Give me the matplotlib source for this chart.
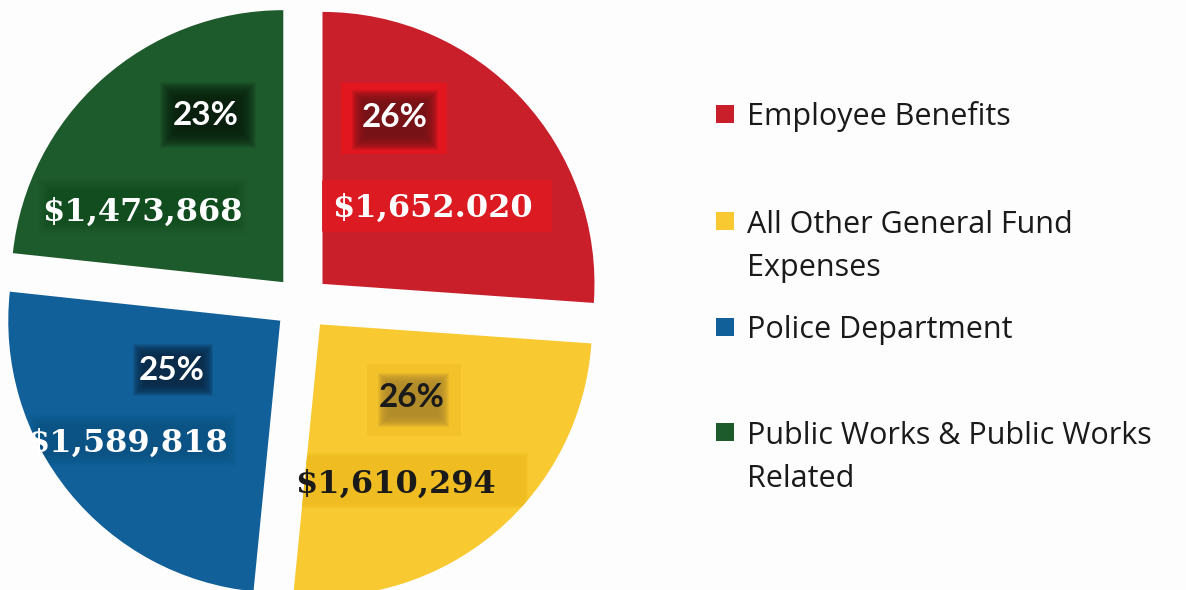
import matplotlib
matplotlib.use('Agg')
import matplotlib.pyplot as plt
from matplotlib.patches import Rectangle

categories = ['Employee Benefits', 'All Other General Fund\nExpenses',
              'Police Department', 'Public Works & Public Works\nRelated']
amounts = [1652020, 1610294, 1589818, 1473868]
amount_labels = ['$1,652.020', '$1,610,294', '$1,589,818', '$1,473,868']
pct_labels = ['26%', '26%', '25%', '23%']
colors = ['#C81F2A', '#F8C930', '#11609A', '#1E5B2C']
text_colors = ['white', '#1a1a1a', 'white', 'white']

# label anchor points (x, baseline y) in figure pixels, y measured from bottom
pct_pos = [(395, 463), (412, 183), (172, 210), (206, 465)]
amt_pos = [(432, 373), (395, 97), (127, 138), (142, 369)]

# highlight boxes behind labels:
# (wedge index, x0, y0, x1, y1, colour, opacity, blur px)
boxes = [
    (0, 343, 438, 445, 505, '#E2161F', 1.0, 2),
    (0, 366, 454, 424, 486, '#6E1216', 0.9, 14),
    (0, 322, 360, 550, 408, '#DB1A22', 1.0, 2),
    (3, 180, 462, 236, 488, '#0A200E', 0.92, 20),
    (3, 50, 368, 235, 400, '#12361A', 0.3, 12),
    (2, 146, 207, 200, 233, '#0A2844', 0.9, 13),
    (2, 40, 135, 225, 165, '#0B3D66', 0.3, 12),
    (1, 370, 157, 458, 223, '#F3C12A', 1.0, 3),
    (1, 390, 175, 437, 205, '#B08A2C', 0.92, 12),
    (1, 292, 85, 525, 134, '#EEBB1E', 0.8, 3),
]

legend_y = [465, 358, 252, 147]
line_step = 44

fig = plt.figure(figsize=(11.86, 5.9), dpi=100, facecolor='#fdfdfd')
ax = fig.add_axes([0, 0, 1, 1])
ax.set_facecolor('#fdfdfd')

wedges, _ = ax.pie(amounts, colors=colors, startangle=90, counterclock=False,
                   center=(302, 287), radius=272, explode=[28] * 4)
ax.set_xlim(0, 1186)
ax.set_ylim(0, 590)
ax.set_aspect('equal')
ax.axis('off')


def soft_box(i, x0, y0, x1, y1, color, opacity, blur):
    # stack of growing translucent rectangles gives a blurred edge,
    # clipped to the wedge underneath
    n = blur + 1
    if opacity < 1:
        a = 1 - (1 - opacity) ** (1.0 / n)
    else:
        a = min(1.0, 3.0 / n)
    for k in range(blur, -1, -1):
        r = Rectangle((x0 - k, y0 - k), x1 - x0 + 2 * k, y1 - y0 + 2 * k,
                      fc=color, ec='none', alpha=a, zorder=3)
        ax.add_patch(r)
        r.set_clip_path(wedges[i])


for b in boxes:
    soft_box(*b)

for (x, y), txt, tc in zip(pct_pos, pct_labels, text_colors):
    ax.text(x, y, txt, ha='center', va='baseline', color=tc, fontsize=24,
            fontfamily='Lato', fontweight='bold', zorder=5)

for (x, y), txt, tc in zip(amt_pos, amount_labels, text_colors):
    ax.text(x, y, txt, ha='center', va='baseline', color=tc, fontsize=23,
            fontfamily='DejaVu Serif', fontweight='bold', zorder=5)

# legend
for w, name, y in zip(wedges, categories, legend_y):
    nlines = name.count('\n')
    ax.add_patch(Rectangle((716, y + 2), 18, 18, fc=w.get_facecolor(), ec='none'))
    ax.text(747, y - line_step * nlines, name, ha='left', va='baseline',
            fontsize=22, fontfamily='Open Sans', color='#1a1a1a',
            linespacing=1.56)

fig.savefig('out.png', dpi=100, facecolor=fig.get_facecolor())
